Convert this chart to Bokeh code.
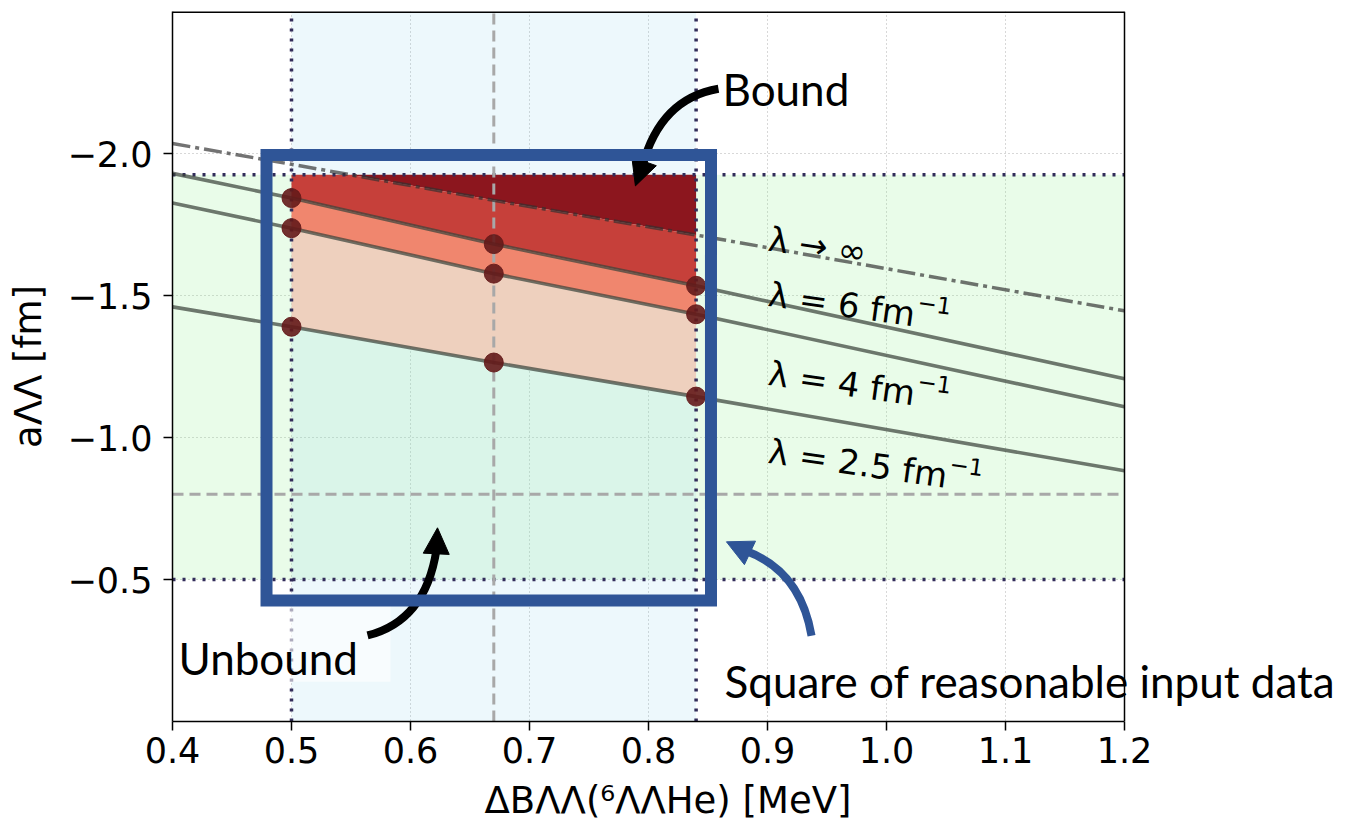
import numpy as np
from bokeh.plotting import figure
from bokeh.models import (Range1d, FixedTicker, CustomJSTickFormatter, Label,
                          BoxAnnotation, Arrow, NormalHead)
from bokeh.embed import file_html
from bokeh.resources import INLINE

# ---------------- data ----------------
x_ticks = [0.4, 0.5, 0.6, 0.7, 0.8, 0.9, 1.0, 1.1, 1.2]
y_ticks = [-2.0, -1.5, -1.0, -0.5]

# scattering length curves a_LL(dB) for different cutoffs
dB_curve = [0.40, 0.50, 0.67, 0.84, 1.20]
a_lam_inf = [-2.035, -1.962, -1.835, -1.713, -1.446]
a_lam6 = [-1.930, -1.843, -1.681, -1.534, -1.207]
a_lam4 = [-1.826, -1.737, -1.577, -1.434, -1.108]
a_lam25 = [-1.460, -1.390, -1.264, -1.144, -0.883]

# computed points (dB = 0.50, 0.67, 0.84)
dB_pts = [0.50, 0.67, 0.84]
a_pts_lam6 = [-1.843, -1.681, -1.534]
a_pts_lam4 = [-1.737, -1.577, -1.434]
a_pts_lam25 = [-1.390, -1.264, -1.144]

# experimental windows
dB_window = [0.50, 0.84]
dB_central = 0.67
a_window = [-1.925, -0.5]
a_central = -0.80

# "square of reasonable input data" box (annotation)
box_dB = [0.479, 0.8525]
box_a = [-1.995, -0.426]

lam_main = ["λ → ∞", "λ = 6 fm", "λ = 4 fm", "λ = 2.5 fm"]
lam_sup = ["", "−1", "−1", "−1"]
lam_label_x = [0.901, 0.901, 0.901, 0.901]
lam_label_y = [-1.700, -1.506, -1.228, -0.953]

x_label = "ΔBΛΛ(⁶ΛΛHe) [MeV]"
y_label = "aΛΛ [fm]"

# ---------------- figure ----------------
X_LO, X_HI = 0.4, 1.2
Y_BOTTOM, Y_TOP = 0.0, -2.5
W, H = 1348, 830
LEFT, TOP, BOTTOM = 172, 11, 109
AXIS_PX = 952                       # pixel length of the 0.4 .. 1.2 axis
X_VIEW = X_LO + (W - LEFT) * (X_HI - X_LO) / AXIS_PX   # frame runs to the page edge

p = figure(width=W, height=H,
           x_range=Range1d(X_LO, X_VIEW), y_range=Range1d(Y_BOTTOM, Y_TOP),
           output_backend="svg", toolbar_location=None,
           min_border_left=LEFT, min_border_right=0,
           min_border_top=TOP, min_border_bottom=BOTTOM)
p.background_fill_color = "white"
p.border_fill_color = "white"
p.outline_line_color = None

xt = FixedTicker(ticks=x_ticks)
yt = FixedTicker(ticks=y_ticks)
p.xaxis.ticker = xt
p.yaxis.ticker = yt
p.xgrid.ticker = xt
p.ygrid.ticker = yt
p.xaxis.bounds = (X_LO, X_HI)
p.xaxis.formatter = CustomJSTickFormatter(code="return tick.toFixed(1);")
p.yaxis.formatter = CustomJSTickFormatter(code="return tick.toFixed(1).replace('-', '\u2212');")
for ax in (p.xaxis[0], p.yaxis[0]):
    ax.axis_line_color = "black"
    ax.axis_line_width = 1.5
    ax.major_tick_line_color = "black"
    ax.major_tick_line_width = 1.5
    ax.major_tick_out = 9
    ax.major_tick_in = 0
    ax.minor_tick_line_color = None
    ax.major_label_text_font = "DejaVu Sans"
    ax.major_label_text_font_size = "35px"
    ax.major_label_text_color = "black"
    ax.axis_label_text_font = "DejaVu Sans"
    ax.axis_label_text_font_size = "37px"
    ax.axis_label_text_font_style = "normal"
    ax.axis_label_text_color = "black"
p.xaxis.major_label_standoff = 6
p.yaxis.major_label_standoff = 11
# the frame is wider than the axis: pad the label so it centres under 0.4 .. 1.2
p.xaxis.axis_label = x_label + "\u2003" * 5
p.yaxis.axis_label = y_label
p.xaxis.axis_label_standoff = 13
p.yaxis.axis_label_standoff = 15

for g in (p.xgrid[0], p.ygrid[0]):
    g.grid_line_color = "#b0b0b0"
    g.grid_line_width = 1
    g.grid_line_dash = "1 3"

# blank area right of the axes (the frame runs to the page edge)
p.quad(left=[X_HI], right=[X_VIEW], bottom=[Y_BOTTOM], top=[Y_TOP],
       fill_color="white", line_alpha=0)

# ---------------- bands ----------------
p.quad(left=[X_LO], right=[X_HI], top=[a_window[0]], bottom=[a_window[1]],
       fill_color="#90ee90", fill_alpha=0.2, line_alpha=0)
p.quad(left=[dB_window[0]], right=[dB_window[1]], top=[Y_TOP], bottom=[Y_BOTTOM],
       fill_color="#87ceeb", fill_alpha=0.15, line_alpha=0)

# ---------------- filled regions ----------------
xc = np.array(dB_curve)
inf_arr = np.array(a_lam_inf)
top = a_window[0]
x_cross = float(np.interp(top, inf_arr, xc))
xf = np.array(sorted(set(dB_pts + [x_cross])))
f_inf = np.maximum(np.interp(xf, xc, inf_arr), top)
f6 = np.interp(xf, xc, a_lam6)
f4 = np.interp(xf, xc, a_lam4)
f25 = np.interp(xf, xc, a_lam25)

p.varea(x=xf, y1=np.full_like(xf, top), y2=f_inf, fill_color="#8c161e", fill_alpha=1.0)
p.varea(x=xf, y1=f_inf, y2=f6, fill_color="#c6403a", fill_alpha=1.0)
p.varea(x=xf, y1=f6, y2=f4, fill_color="#f0866e", fill_alpha=1.0)
p.varea(x=xf, y1=f4, y2=f25, fill_color="#eed0be", fill_alpha=1.0)

# ---------------- reference lines ----------------
dot_col = "#322d5a"
p.segment(x0=dB_window, x1=dB_window, y0=[Y_BOTTOM] * 2, y1=[Y_TOP] * 2,
          line_color=dot_col, line_width=3.5, line_dash="3 7")
p.segment(x0=[X_LO] * 2, x1=[X_HI] * 2, y0=a_window, y1=a_window,
          line_color=dot_col, line_width=3.5, line_dash="3 7")
p.segment(x0=[dB_central], x1=[dB_central], y0=[Y_BOTTOM], y1=[Y_TOP],
          line_color="#a8a8a8", line_width=3, line_dash="11 6")
p.segment(x0=[X_LO], x1=[X_HI], y0=[a_central], y1=[a_central],
          line_color="#a8a8a8", line_width=3, line_dash="11 6")

# ---------------- curves ----------------
p.line(dB_curve, a_lam_inf, line_color="#303030", line_alpha=0.68,
       line_width=3.5, line_dash="18 5 4 5")
for ys in (a_lam6, a_lam4, a_lam25):
    p.line(dB_curve, ys, line_color="#3c443c", line_alpha=0.72, line_width=3.6)

for ys in (a_pts_lam6, a_pts_lam4, a_pts_lam25):
    p.scatter(dB_pts, ys, size=19, fill_color="#641919", line_color="#641919",
              alpha=0.9)

# top and right spines
p.segment(x0=[X_LO], x1=[X_HI], y0=[Y_TOP], y1=[Y_TOP], line_color="black", line_width=3)
p.segment(x0=[X_HI], x1=[X_HI], y0=[Y_BOTTOM], y1=[Y_TOP], line_color="black", line_width=1.5)

# Unbound label background (slide overlay)
p.quad(left=[0.3874], right=[0.5832], top=[-0.418], bottom=[-0.140],
       fill_color="white", fill_alpha=0.6, line_alpha=0)

# curved arrows: (start, control, end, tip)
arrows = [
    ((0.8588, -2.228), (0.810, -2.193), (0.795, -1.957), (0.789, -1.886), "black"),
    ((0.5639, -0.303), (0.6126, -0.3546), (0.6218, -0.6046), (0.6227, -0.682), "black"),
    ((0.937, -0.3018), (0.9277, -0.5306), (0.8815, -0.6011), (0.8655, -0.6327), "#2f5597"),
]
for (s, c, e, tip, col) in arrows:
    p.quadratic(x0=[s[0]], y0=[s[1]], x1=[e[0]], y1=[e[1]], cx=[c[0]], cy=[c[1]],
                line_color=col, line_width=8)
    p.add_layout(Arrow(end=NormalHead(size=26, fill_color=col, line_color=col),
                       x_start=e[0], y_start=e[1], x_end=tip[0], y_end=tip[1],
                       line_color=col, line_width=8))

# ---------------- annotations ----------------
cw = {"λ": 0.592, " ": 0.318, "=": 0.838, ".": 0.318, "f": 0.352, "m": 0.974}
ang = 0.14
for t, sup, lx, ly in zip(lam_main, lam_sup, lam_label_x, lam_label_y):
    p.add_layout(Label(x=lx, y=ly, text=t, angle=-ang,
                       text_font="DejaVu Sans", text_font_size="34px",
                       text_color="black", text_baseline="alphabetic",
                       text_align="left"))
    if sup:
        w = 34 * sum(cw.get(ch, 0.636) for ch in t) + 1
        h = 13
        p.add_layout(Label(x=lx, y=ly, text=sup, angle=-ang,
                           x_offset=w * np.cos(ang) + h * np.sin(ang),
                           y_offset=h * np.cos(ang) - w * np.sin(ang),
                           text_font="DejaVu Sans", text_font_size="23px",
                           text_color="black", text_baseline="alphabetic",
                           text_align="left"))

p.add_layout(BoxAnnotation(left=box_dB[0], right=box_dB[1],
                           top=box_a[0], bottom=box_a[1],
                           fill_alpha=0, line_color="#2f5597", line_alpha=1.0,
                           line_width=12, line_join="miter"))

slide_font = "Lato"
for t, lx, ly in [("Bound", 0.8622, -2.228),
                  ("Unbound", 0.405, -0.2243),
                  ("Square of reasonable input data", 0.8639, -0.143)]:
    p.add_layout(Label(x=lx, y=ly, text=t, text_font=slide_font,
                       text_font_size="44px", text_color="black",
                       text_baseline="alphabetic", text_align="left"))

open("out.html", "w").write(file_html(p, INLINE))
